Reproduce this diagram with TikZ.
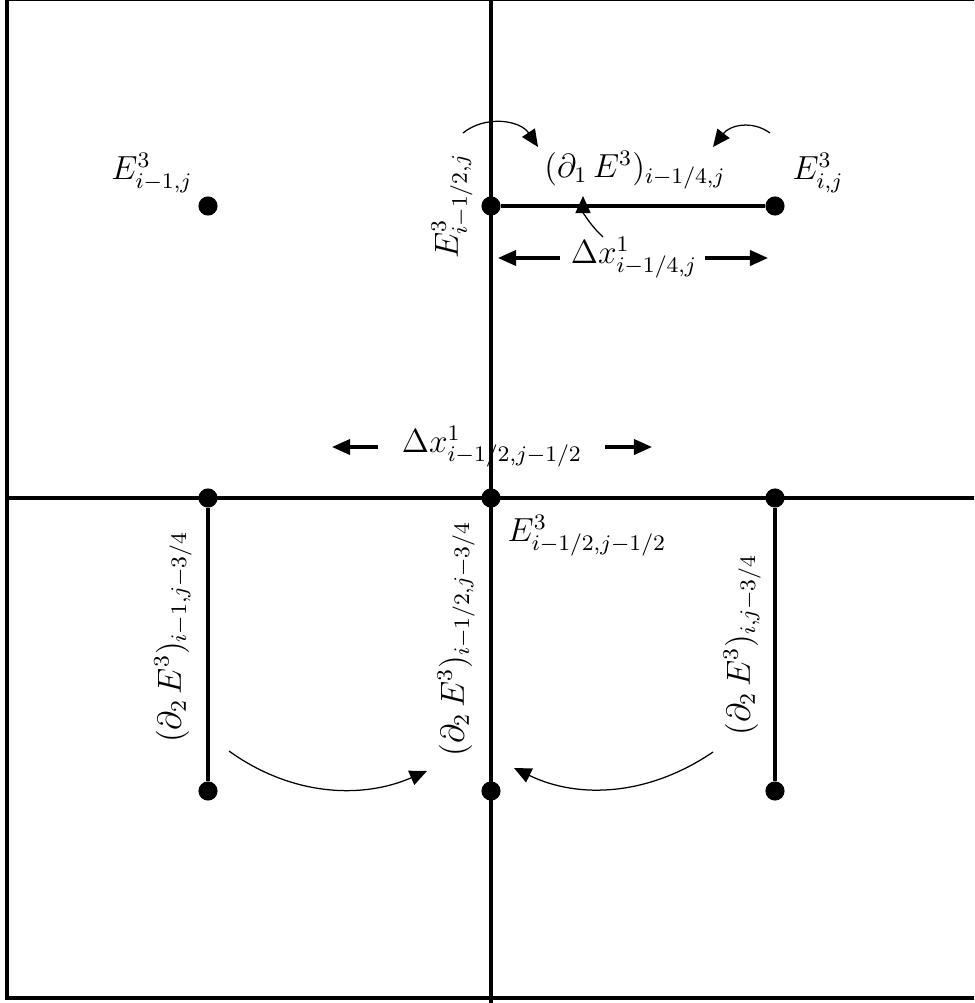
\documentclass[tikz,border=0pt]{standalone}
\usetikzlibrary{arrows.meta}
\begin{document}
\begin{tikzpicture}[x=0.36pt,y=-0.36pt,
  grid/.style={line width=1.1pt},
  dot/.style={circle,fill,inner sep=0pt,minimum size=6.9pt},
  lab/.style={inner sep=0pt,font=\large},
  dimarrow/.style={line width=1.1pt,-{Triangle[length=6.5pt,width=5.5pt]}},
  curvearrow/.style={line width=0.45pt,-{Triangle[length=6.2pt,width=5.5pt]}}]
\useasboundingbox (0,0) rectangle (974,1003);
\clip (0,0) rectangle (974,1003);
% frame and grid
\draw[grid] (7,-0.8) rectangle (990,998);
\draw[grid] (491,-10) -- (491,1010);
\draw[grid] (7,498) -- (990,498);
% dots
\node[dot] (a1) at (208,206) {};
\node[dot] (a2) at (491,206) {};
\node[dot] (a3) at (775,206) {};
\node[dot] (b1) at (208,498) {};
\node[dot] (b2) at (491,498) {};
\node[dot] (b3) at (775,498) {};
\node[dot] (c1) at (208,791) {};
\node[dot] (c2) at (491,791) {};
\node[dot] (c3) at (775,791) {};
% segments
\draw[grid] (a2) -- (a3);
\draw[grid] (b1) -- (c1);
\draw[grid] (b3) -- (c3);
% labels
\node[lab] (lE1) at (152,173) {$E^3_{i-1,j}$};
\node[lab] (lD1) at (635,170) {$(\partial_1\, E^3)_{i-1/4,j}$};
\node[lab] (lE2) at (818,173) {$E^3_{i,j}$};
\node[lab,rotate=90] (lE3) at (452,206) {$E^3_{i-1/2,j}$};
\node[lab] (dx1) at (634,258) {$\Delta x^1_{i-1/4,j}$};
\node[lab] (dx2) at (492,447) {$\Delta x^1_{i-1/2,j-1/2}$};
\node[lab] (lE4) at (587,536) {$E^3_{i-1/2,j-1/2}$};
\node[lab,rotate=90] (lP1) at (173,637) {$(\partial_2\, E^3)_{i-1,j-3/4}$};
\node[lab,rotate=90] (lP2) at (456,639) {$(\partial_2\, E^3)_{i-1/2,j-3/4}$};
\node[lab,rotate=90] (lP3) at (742,645) {$(\partial_2\, E^3)_{i,j-3/4}$};
% coordinates for arrow ends
\coordinate (d1ls) at (560,258);
\coordinate (d1rs) at (705,258);
\coordinate (d1l) at (498,258);
\coordinate (d1r) at (768,258);
\coordinate (d2l) at (332,447);
\coordinate (d2r) at (652,447);
\coordinate (d2ls) at (378,447);
\coordinate (d2rs) at (605,447);
\coordinate (t1s) at (463,133);
\coordinate (t1e) at (538,147);
\coordinate (t2s) at (770,133);
\coordinate (t2e) at (713,147);
\coordinate (t3s) at (603,237);
\coordinate (t3e) at (583,196);
\coordinate (u1s) at (229,751);
\coordinate (u1e) at (427,771);
\coordinate (u2s) at (713,752);
\coordinate (u2e) at (514,768);
% dimension arrows
\draw[dimarrow] (d1ls) -- (d1l);
\draw[dimarrow] (d1rs) -- (d1r);
\draw[dimarrow] (d2ls) -- (d2l);
\draw[dimarrow] (d2rs) -- (d2r);
% curved arrows
\draw[curvearrow] (t1s) .. controls (485,115) and (520,120) .. (t1e);
\draw[curvearrow] (t2s) .. controls (752,120) and (730,125) .. (t2e);
\draw[curvearrow] (t3s) .. controls (590,225) and (583,212) .. (t3e);
\draw[curvearrow] (u1s) .. controls (290,795) and (360,800) .. (u1e);
\draw[curvearrow] (u2s) .. controls (650,795) and (580,800) .. (u2e);
\end{tikzpicture}
\end{document}
